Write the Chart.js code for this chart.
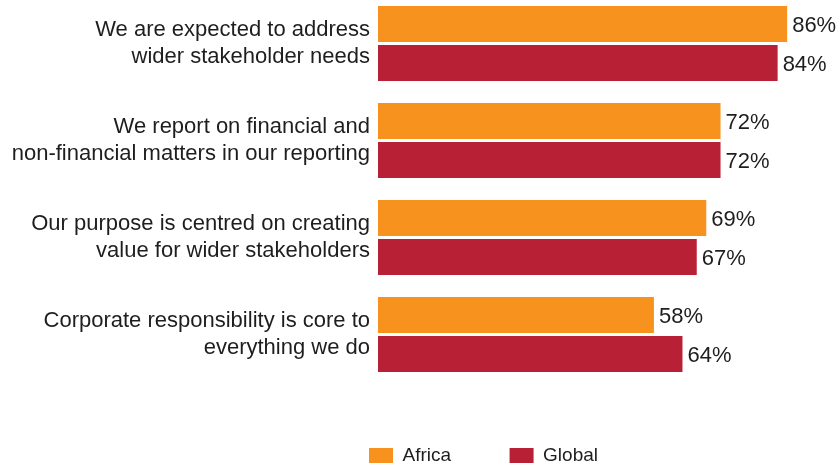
<!DOCTYPE html>
<html>
<head>
<meta charset="utf-8">
<script src="https://cdn.jsdelivr.net/npm/chart.js@4.4.1/dist/chart.umd.min.js"></script>
<style>
  html, body { margin: 0; padding: 0; background: #fff; overflow: hidden; }
  #wrap { width: 839px; height: 473px; margin-top: -5px; }
</style>
</head>
<body>
<div id="wrap"><canvas id="myChart"></canvas></div>
<script>
const categories = [
    ['We are expected to address', 'wider stakeholder needs'],
    ['We report on financial and', 'non-financial matters in our reporting'],
    ['Our purpose is centred on creating', 'value for wider stakeholders'],
    ['Corporate responsibility is core to', 'everything we do']
]
const africa = [86, 72, 69, 58]
const global = [84, 72, 67, 64]
const seriesNames = ['Africa', 'Global']

const ORANGE = '#f7921e'
const RED = '#b82135'
const TEXT = '#1e1e1e'
const FONT = "'Liberation Sans', Arial, Helvetica, sans-serif"

// writes "NN%" just past the end of every bar
const valueLabels = {
    id: 'valueLabels',
    afterDatasetsDraw(chart) {
        const ctx = chart.ctx
        ctx.save()
        ctx.font = '22px ' + FONT
        ctx.fillStyle = TEXT
        ctx.textAlign = 'left'
        ctx.textBaseline = 'middle'
        chart.data.datasets.forEach((ds, i) => {
            chart.getDatasetMeta(i).data.forEach((bar, j) => {
                ctx.fillText(ds.data[j] + '%', bar.x + 5, bar.y + 2)
            })
        })
        ctx.restore()
    }
}

// legend sits under the bars, not at the page edge
const legendShift = {
    id: 'legendShift',
    afterLayout(chart) {
        const lg = chart.legend
        lg.left += 310.5
        lg.right += 310.5
    }
}

const ctx = document.getElementById('myChart').getContext('2d')
const myChart = new Chart(ctx, {
    type: 'bar',
    data: {
        labels: categories,
        datasets: [{
            label: seriesNames[0],
            data: africa,
            backgroundColor: ORANGE,
            borderWidth: 0
        }, {
            label: seriesNames[1],
            data: global,
            backgroundColor: RED,
            borderWidth: 0
        }]
    },
    options: {
        indexAxis: 'y',
        responsive: true,
        maintainAspectRatio: false,
        animation: false,
        categoryPercentage: 0.8041,
        barPercentage: 0.9231,
        layout: {
            padding: { left: 0, top: 0, right: 0, bottom: -7 }
        },
        scales: {
            x: {
                min: 0,
                max: 96.9,
                ticks: { display: false },
                grid: { display: false, drawTicks: false },
                border: { display: false },
                afterFit: (s) => { s.height = 4.5 }
            },
            y: {
                ticks: {
                    color: TEXT,
                    padding: 8,
                    font: { family: FONT, size: 22 }
                },
                grid: { display: false, drawTicks: false },
                border: { display: false },
                afterFit: (s) => {
                    s.width = 378
                    s.paddingTop = 0
                    s.paddingBottom = 0
                }
            }
        },
        plugins: {
            legend: {
                position: 'bottom',
                align: 'start',
                labels: {
                    boxWidth: 24,
                    boxHeight: 15,
                    padding: 58.5,
                    color: TEXT,
                    font: { family: FONT, size: 19 }
                }
            },
            tooltip: { enabled: false }
        }
    },
    plugins: [valueLabels, legendShift]
})
</script>
</body>
</html>
